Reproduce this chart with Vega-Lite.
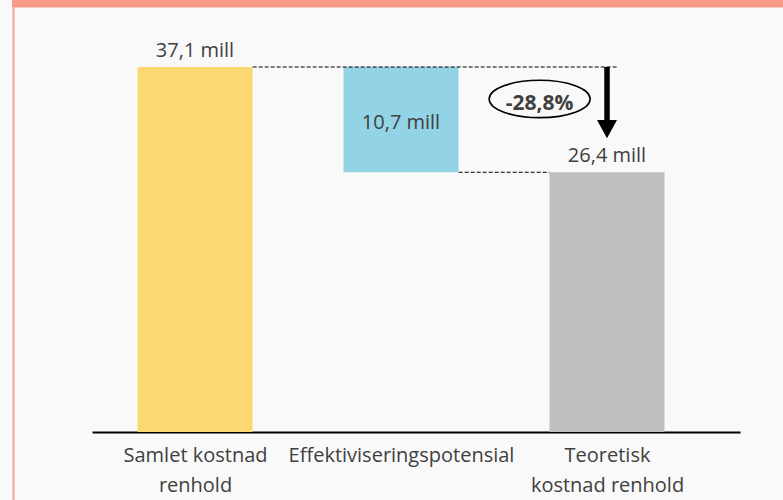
{
  "$schema": "https://vega.github.io/schema/vega-lite/v6.json",
  "width": 648,
  "height": 432,
  "padding": {"left": 92, "top": 0, "right": 43, "bottom": 68},
  "autosize": {"type": "none"},
  "background": "#f9f9f9",
  "config": {"view": {"stroke": null}, "font": "Open Sans"},
  "datasets": {
    "bars": [
      {"cat": "Samlet kostnad renhold", "pos": 1, "start": 0, "end": 37.1, "label": "37,1 mill"},
      {"cat": "Effektiviseringspotensial", "pos": 2, "start": 26.4, "end": 37.1, "label": "10,7 mill"},
      {"cat": "Teoretisk kostnad renhold", "pos": 3, "start": 0, "end": 26.4, "label": "26,4 mill"}
    ],
    "connectors": [
      {"from": 1.28, "to": 3.05, "level": 37.1},
      {"from": 2.28, "to": 2.72, "level": 26.4}
    ],
    "change": [
      {"pos": 3, "from": 37.1, "to": 31.2, "head": 30.78, "badge_pos": 2.673, "badge_y": 33.85, "text": "-28,8%"}
    ]
  },
  "layer": [
    {
      "data": {"name": "bars"},
      "mark": {"type": "bar", "width": 115},
      "encoding": {
        "x": {"field": "pos", "type": "quantitative",
          "scale": {"domain": [0.5, 3.6456], "nice": false, "zero": false, "padding": 0},
          "axis": {
          "values": [1, 2, 3],
          "title": null,
          "ticks": false,
          "grid": false,
          "domainColor": "#000000",
          "domainWidth": 2,
          "labelFont": "Open Sans",
          "labelFontSize": 20,
          "labelColor": "#404040",
          "labelLineHeight": 30,
          "labelBaseline": "alphabetic",
          "labelPadding": 29.7,
          "labelLimit": 0,
          "labelOverlap": false,
          "labelExpr": "datum.value == 1 ? ['Samlet kostnad', 'renhold'] : datum.value == 2 ? 'Effektiviseringspotensial' : ['Teoretisk', 'kostnad renhold']"
        }},
        "y": {"field": "start", "type": "quantitative", "axis": null,
          "scale": {"domain": [0, 43.91], "nice": false, "zero": false, "padding": 0}},
        "y2": {"field": "end"},
        "color": {"field": "cat", "type": "nominal", "legend": null,
          "scale": {"domain": ["Samlet kostnad renhold", "Effektiviseringspotensial", "Teoretisk kostnad renhold"],
                    "range": ["#FBD872", "#92D3E6", "#BFBFBF"]}}
      }
    },
    {
      "data": {"name": "connectors"},
      "mark": {"type": "rule", "color": "#000000", "strokeWidth": 1, "strokeDash": [4, 2]},
      "encoding": {
        "x": {"field": "from", "type": "quantitative"},
        "x2": {"field": "to"},
        "y": {"field": "level", "type": "quantitative"}
      }
    },
    {
      "data": {"name": "bars"},
      "transform": [{"filter": "datum.pos != 2"}],
      "mark": {"type": "text", "baseline": "alphabetic", "dy": -9.8, "fontSize": 20, "color": "#404040"},
      "encoding": {
        "x": {"field": "pos", "type": "quantitative"},
        "y": {"field": "end", "type": "quantitative"},
        "text": {"field": "label"}
      }
    },
    {
      "data": {"name": "bars"},
      "transform": [{"filter": "datum.pos == 2"}],
      "mark": {"type": "text", "baseline": "alphabetic", "dy": 9.7, "fontSize": 20, "color": "#404040"},
      "encoding": {
        "x": {"field": "pos", "type": "quantitative"},
        "y": {"datum": 31.75, "type": "quantitative"},
        "text": {"field": "label"}
      }
    },
    {
      "data": {"name": "change"},
      "mark": {"type": "rule", "color": "#000000", "strokeWidth": 5.5},
      "encoding": {
        "x": {"field": "pos", "type": "quantitative"},
        "y": {"field": "from", "type": "quantitative"},
        "y2": {"field": "to"}
      }
    },
    {
      "data": {"name": "change"},
      "mark": {"type": "point", "shape": "M-1,-0.915L1,-0.915L0,0.915Z", "size": 400, "filled": true, "color": "#000000", "opacity": 1},
      "encoding": {
        "x": {"field": "pos", "type": "quantitative"},
        "y": {"field": "head", "type": "quantitative"}
      }
    },
    {
      "data": {"name": "change"},
      "mark": {"type": "point", "shape": "M-1,0C-1,-0.2043,-0.5523,-0.37,0,-0.37C0.5523,-0.37,1,-0.2043,1,0C1,0.2043,0.5523,0.37,0,0.37C-0.5523,0.37,-1,0.2043,-1,0Z", "size": 10201, "filled": false, "color": "#000000", "strokeWidth": 1.6, "opacity": 1},
      "encoding": {
        "x": {"field": "badge_pos", "type": "quantitative"},
        "y": {"field": "badge_y", "type": "quantitative"}
      }
    },
    {
      "data": {"name": "change"},
      "mark": {"type": "text", "fontSize": 21, "fontWeight": "bold", "color": "#404040", "baseline": "alphabetic", "dy": 11},
      "encoding": {
        "x": {"field": "badge_pos", "type": "quantitative"},
        "y": {"field": "badge_y", "type": "quantitative"},
        "text": {"field": "text"}
      }
    },
    {
      "data": {"name": "change"},
      "mark": {"type": "rect", "color": "#F99B89", "clip": false},
      "encoding": {
        "x": {"datum": 0.1117, "type": "quantitative"},
        "x2": {"datum": 3.9},
        "y": {"datum": 43.15, "type": "quantitative"},
        "y2": {"datum": 45}
      }
    },
    {
      "data": {"name": "change"},
      "mark": {"type": "rect", "color": "#F7A294", "clip": false},
      "encoding": {
        "x": {"datum": 0.1141, "type": "quantitative"},
        "x2": {"datum": 0.1238},
        "y": {"datum": -8, "type": "quantitative"},
        "y2": {"datum": 43.15}
      }
    }
  ]
}
